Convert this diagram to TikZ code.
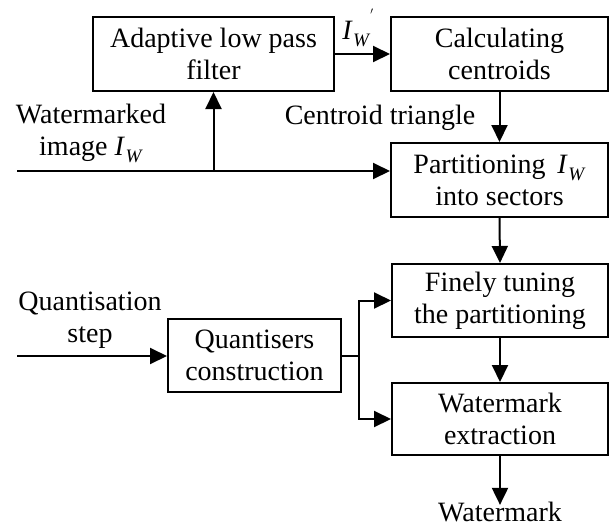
\documentclass[tikz,border=0pt]{standalone}
\usepackage{fontspec}
\setmainfont{Liberation Serif}
\usetikzlibrary{arrows.meta}
\newcommand{\IW}{\textit{I}\kern0.5pt\raisebox{-7pt}{\fontsize{19}{19}\selectfont\textit{W}}}
\begin{document}
\begin{tikzpicture}[x=1pt,y=-1pt,
  every node/.style={font=\fontsize{28}{32}\selectfont, inner sep=0pt},
  blk/.style={draw, line width=2pt, align=center, anchor=center},
  lbl/.style={align=center},
  conn/.style={line width=2pt, -{Triangle[length=17pt,width=16pt]}},
  plain/.style={line width=2pt}]
\useasboundingbox (0,0) rectangle (610,528);
\node[blk, minimum width=241pt, minimum height=74pt] (filt) at (213.5,54) {Adaptive low pass\\filter};
\node[blk, minimum width=217pt, minimum height=74pt] (cent) at (499.5,54) {Calculating\\centroids};
\node[blk, minimum width=217pt, minimum height=74pt] (part) at (499.5,180) {Partitioning \,\IW\\into sectors};
\node[blk, minimum width=216pt, minimum height=73pt] (fine) at (500,300.5) {Finely tuning\\the partitioning};
\node[blk, minimum width=216pt, minimum height=72pt] (extr) at (500,419) {Watermark\\extraction};
\node[blk, minimum width=173pt, minimum height=73pt] (quant) at (254.5,355.5) {Quantisers\\construction};
\node[lbl] (wmi) at (91,133) {Watermarked\\image \IW};
\node[lbl] (qs) at (90,320) {Quantisation\\step};
\node[lbl] (ct) at (380,118) {Centroid triangle};
\node[lbl] (wm) at (500,512) {Watermark};
\node[lbl] (iwp) at (358,28) {\IW\raisebox{20pt}{\fontsize{14}{14}\selectfont$'$}};
\coordinate (in) at (17,171);
\coordinate (qin) at (17,356);
\coordinate (br) at (359,355.5);
\draw[conn] (in) -- (in -| part.west);
\draw[conn] (in -| filt.south) -- (filt.south);
\draw[conn] (filt.east) -- (cent.west);
\draw[conn] (cent.south) -- (part.north);
\draw[conn] (part.south) -- (fine.north);
\draw[conn] (qin) -- (qin -| quant.west);
\draw[plain] (quant.east) -- (br);
\draw[conn] (br) |- (fine.west);
\draw[conn] (br) |- (extr.west);
\draw[conn] (fine.south) -- (extr.north);
\draw[conn] (extr.south) -- ([yshift=-3pt]wm.north);
\end{tikzpicture}
\end{document}
